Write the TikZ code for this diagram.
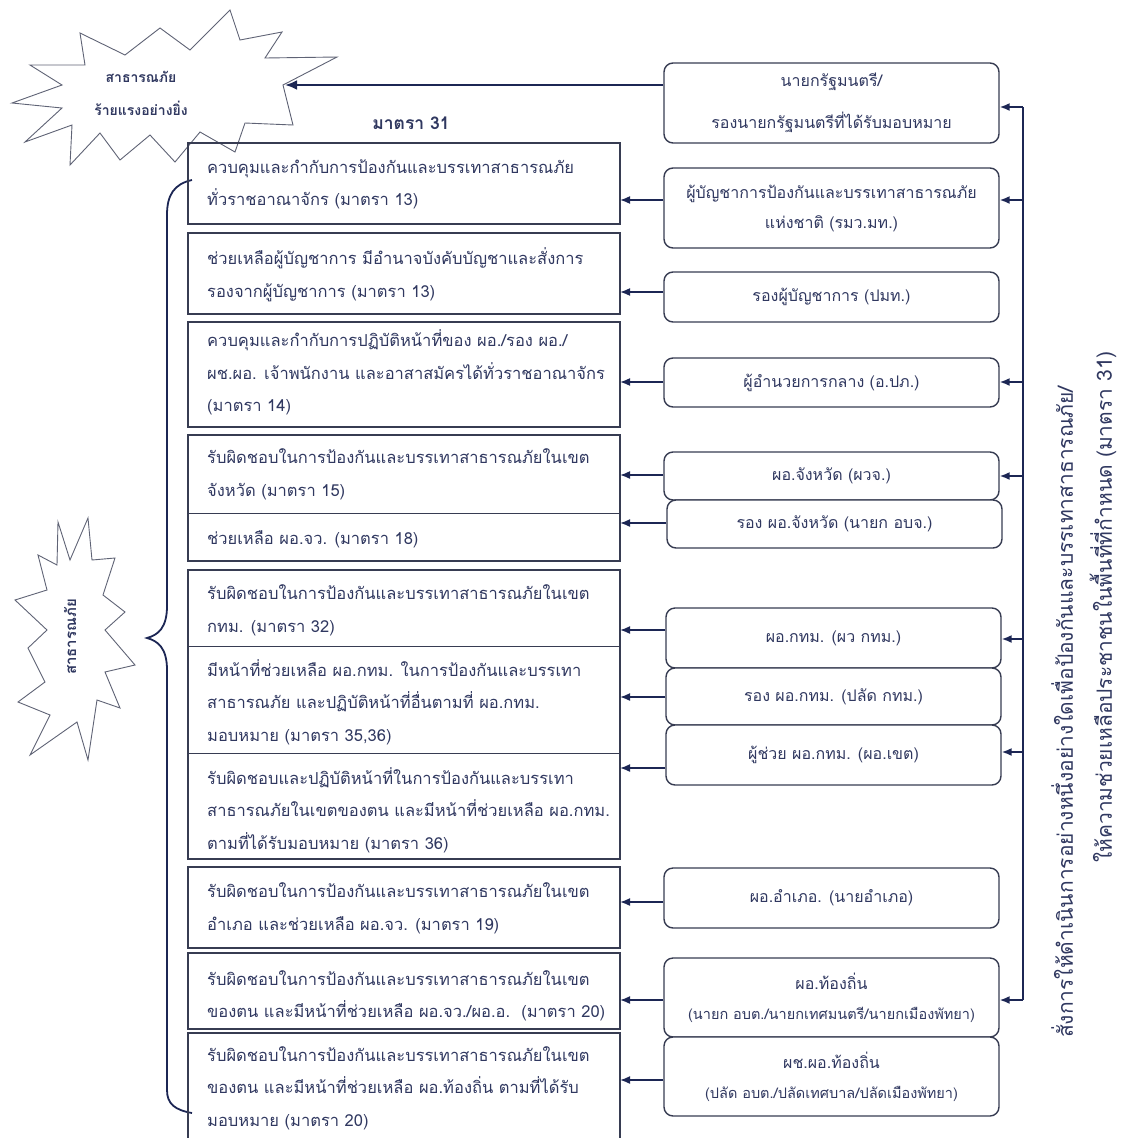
\documentclass[tikz,border=0pt]{standalone}
\usepackage{fontspec}
\setmainfont{Loma}[Script=Thai]
\usetikzlibrary{arrows.meta}
\definecolor{ink}{RGB}{48,56,96}
\definecolor{frame}{RGB}{55,60,82}
\definecolor{arrowc}{RGB}{28,38,84}
\newcommand\leftfnt{\fontsize{16.5}{32.5}\selectfont}
\newcommand\rightfnt{\fontsize{16}{30}\selectfont}
\newcommand\smallfnt{\fontsize{14.5}{30}\selectfont}
\newcommand\vertfnt{\fontsize{21}{24}\selectfont}
\begin{document}
\begin{tikzpicture}[x=1pt,y=-1pt,
  cell/.style={draw=frame,line width=1pt,minimum width=431pt,anchor=north west,inner sep=0pt},
  lframe/.style={draw=frame,line width=1.8pt},
  ltxt/.style={anchor=west,align=left,text=ink,font=\leftfnt,inner sep=0pt},
  rbox/.style={draw=frame,line width=1.4pt,rounded corners=9pt,minimum width=335pt,
    text=ink,font=\rightfnt,align=center,inner sep=0pt,fill=white},
  arr/.style={draw=arrowc,line width=1.6pt,-{Latex[length=10pt,width=8pt]}},
  bigarr/.style={draw=arrowc,line width=2.6pt,-{Latex[length=12pt,width=10pt]}},
  burst/.style={draw=frame!80,line width=0.9pt,fill=white},
]
\useasboundingbox (0,0) rectangle (1135,1138);
\clip (0,0) rectangle (1135,1138);

% ---- top starburst ----
\draw[burst] (230,10) -- (240,40) -- (282,32) -- (265,58) -- (337,57) -- (283,85)
  -- (293,125) -- (245,123) -- (235,152) -- (200,132) -- (175,162) -- (150,135)
  -- (120,160) -- (100,133) -- (70,165) -- (72,125) -- (25,142) -- (62,108)
  -- (12,103) -- (62,85) -- (30,65) -- (85,65) -- (80,33) -- (125,55)
  -- (160,28) -- (190,50) -- cycle;
\node[text=ink,font=\bfseries\fontsize{14}{33}\selectfont,align=center] (sb) at (141,93)
  {สาธารณภัย\\ร้ายแรงอย่างยิ่ง};
\coordinate (sbtip) at (285,85);

% ---- left starburst ----
\draw[burst] (58,522) -- (70,560) -- (88,518) -- (92,560) -- (115,558) -- (103,595)
  -- (125,612) -- (105,630) -- (135,665) -- (105,672) -- (120,708) -- (97,700)
  -- (88,760) -- (77,722) -- (30,755) -- (50,715) -- (18,702) -- (45,682)
  -- (28,648) -- (47,630) -- (15,600) -- (47,590) -- (38,555) -- (57,565) -- cycle;
\node[rotate=90,text=ink,font=\bfseries\fontsize{15}{17}\selectfont] (lb) at (70,637) {สาธารณภัย};

% ---- brace ----
\draw[arrowc,line width=1.8pt] (192,180) .. controls (174,184) and (167,195) .. (167,215)
  -- (167,606) .. controls (167,628) and (158,635) .. (147,638)
  .. controls (158,641) and (167,648) .. (167,670)
  -- (167,1090) .. controls (167,1104) and (175,1110) .. (192,1113);

\node[text=ink,font=\bfseries\fontsize{17.5}{20}\selectfont] (m31) at (411,123) {มาตรา 31};

% ---- left cells ----
\node[cell,minimum height=80pt]  (lc1)  at (188,143) {};
\node[cell,minimum height=80pt]  (lc2)  at (188,233) {};
\node[cell,minimum height=104pt] (lc3)  at (188,322) {};
\node[cell,minimum height=78pt]  (lc4a) at (188,435) {};
\node[cell,minimum height=47pt]  (lc4b) at (188,513) {};
\node[cell,minimum height=76pt]  (lc5a) at (188,570) {};
\node[cell,minimum height=107pt] (lc5b) at (188,646) {};
\node[cell,minimum height=105pt] (lc5c) at (188,753) {};
\node[cell,minimum height=80pt]  (lc6)  at (188,867) {};
\node[cell,minimum height=75pt]  (lc7)  at (188,953) {};
\node[cell,minimum height=112pt] (lc8)  at (188,1033) {};
\draw[lframe] (lc1.north west) rectangle (lc1.south east);
\draw[lframe] (lc2.north west) rectangle (lc2.south east);
\draw[lframe] (lc3.north west) rectangle (lc3.south east);
\draw[lframe] (lc4a.north west) rectangle (lc4b.south east);
\draw[lframe] (lc5a.north west) rectangle (lc5c.south east);
\draw[lframe] (lc6.north west) rectangle (lc6.south east);
\draw[lframe] (lc7.north west) rectangle (lc7.south east);
\draw[lframe] (lc8.north west) rectangle (lc8.south east);

\node[ltxt] (t1) at ([xshift=19pt,yshift=-1pt]lc1.west)
  {ควบคุมและกำกับการป้องกันและบรรเทาสาธารณภัย\\ทั่วราชอาณาจักร (มาตรา 13)};
\node[ltxt] (t2) at ([xshift=19pt,yshift=-1pt]lc2.west)
  {ช่วยเหลือผู้บัญชาการ มีอำนาจบังคับบัญชาและสั่งการ\\รองจากผู้บัญชาการ (มาตรา 13)};
\node[ltxt] (t3) at ([xshift=19pt,yshift=2pt]lc3.west)
  {ควบคุมและกำกับการปฏิบัติหน้าที่ของ ผอ./รอง ผอ./\\ผช.ผอ. เจ้าพนักงาน และอาสาสมัครได้ทั่วราชอาณาจักร\\(มาตรา 14)};
\node[ltxt] (t4a) at ([xshift=19pt]lc4a.west)
  {รับผิดชอบในการป้องกันและบรรเทาสาธารณภัยในเขต\\จังหวัด (มาตรา 15)};
\node[ltxt] (t4b) at ([xshift=19pt,yshift=-2pt]lc4b.west)
  {ช่วยเหลือ ผอ.จว. (มาตรา 18)};
\node[ltxt] (t5a) at ([xshift=19pt,yshift=-2pt]lc5a.west)
  {รับผิดชอบในการป้องกันและบรรเทาสาธารณภัยในเขต\\กทม. (มาตรา 32)};
\node[ltxt] (t5b) at ([xshift=19pt,yshift=-2pt]lc5b.west)
  {มีหน้าที่ช่วยเหลือ ผอ.กทม. ในการป้องกันและบรรเทา\\สาธารณภัย และปฏิบัติหน้าที่อื่นตามที่ ผอ.กทม.\\มอบหมาย (มาตรา 35,36)};
\node[ltxt] (t5c) at ([xshift=19pt,yshift=-4pt]lc5c.west)
  {รับผิดชอบและปฏิบัติหน้าที่ในการป้องกันและบรรเทา\\สาธารณภัยในเขตของตน และมีหน้าที่ช่วยเหลือ ผอ.กทม.\\ตามที่ได้รับมอบหมาย (มาตรา 36)};
\node[ltxt] (t6) at ([xshift=19pt,yshift=-1pt]lc6.west)
  {รับผิดชอบในการป้องกันและบรรเทาสาธารณภัยในเขต\\อำเภอ และช่วยเหลือ ผอ.จว. (มาตรา 19)};
\node[ltxt] (t7) at ([xshift=19pt,yshift=-5pt]lc7.west)
  {รับผิดชอบในการป้องกันและบรรเทาสาธารณภัยในเขต\\ของตน และมีหน้าที่ช่วยเหลือ ผอ.จว./ผอ.อ.~~(มาตรา 20)};
\node[ltxt] (t8) at (207,1088)
  {รับผิดชอบในการป้องกันและบรรเทาสาธารณภัยในเขต\\ของตน และมีหน้าที่ช่วยเหลือ ผอ.ท้องถิ่น ตามที่ได้รับ\\มอบหมาย (มาตรา 20)};

% ---- right boxes ----
\node[rbox,minimum height=80pt] (rb1) at (831.5,103) {นายกรัฐมนตรี/\\[12pt]รองนายกรัฐมนตรีที่ได้รับมอบหมาย};
\node[rbox,minimum height=80pt] (rb2) at (831.5,208) {ผู้บัญชาการป้องกันและบรรเทาสาธารณภัย\\แห่งชาติ (รมว.มท.)};
\node[rbox,minimum height=50pt] (rb3) at (831.5,297) {รองผู้บัญชาการ (ปมท.)};
\node[rbox,minimum height=49pt] (rb4) at (831.5,382.5) {ผู้อำนวยการกลาง (อ.ปภ.)};
\node[rbox,minimum height=48pt] (rb5) at (831.5,476) {ผอ.จังหวัด (ผวจ.)};
\node[rbox,minimum height=48pt] (rb6) at (834.5,524) {รอง ผอ.จังหวัด (นายก อบจ.)};
\node[rbox,minimum height=60pt] (rb7) at (833.5,638) {ผอ.กทม. (ผว กทม.)};
\node[rbox,minimum height=57pt] (rb8) at (833.5,696.5) {รอง ผอ.กทม. (ปลัด กทม.)};
\node[rbox,minimum height=60pt] (rb9) at (833.5,755) {ผู้ช่วย ผอ.กทม. (ผอ.เขต)};
\node[rbox,minimum height=60pt] (rb10) at (831.5,898) {ผอ.อำเภอ. (นายอำเภอ)};
\node[rbox,minimum height=79pt] (rb11) at (831.5,997.5)
  {ผอ.ท้องถิ่น\\{\smallfnt (นายก อบต./นายกเทศมนตรี/นายกเมืองพัทยา)}};
\node[rbox,minimum height=79pt] (rb12) at (831.5,1076.5)
  {ผช.ผอ.ท้องถิ่น\\{\smallfnt (ปลัด อบต./ปลัดเทศบาล/ปลัดเมืองพัทยา)}};

% ---- connectors to the left column ----
\draw[bigarr] (rb1.west |- 0,85) -- (sbtip);
\draw[arr] (rb2.west |- 0,200) -- (lc1.east |- 0,200);
\draw[arr] (rb3.west |- 0,292) -- (lc2.east |- 0,292);
\draw[arr] (rb4.west |- 0,382) -- (lc3.east |- 0,382);
\draw[arr] (rb5.west |- 0,475) -- (lc4a.east |- 0,475);
\draw[arr] (rb6.west |- 0,523) -- (lc4b.east |- 0,523);
\draw[arr] (rb7.west |- 0,630) -- (lc5a.east |- 0,630);
\draw[arr] (rb8.west |- 0,697) -- (lc5b.east |- 0,697);
\draw[arr] (rb9.west |- 0,768) -- (lc5c.east |- 0,768);
\draw[arr] (rb10.west |- 0,902) -- (lc6.east |- 0,902);
\draw[arr] (rb11.west |- 0,1000) -- (lc7.east |- 0,1000);
\draw[arr] (rb12.west |- 0,1080) -- (lc8.east |- 0,1080);

% ---- command bus on the right ----
\coordinate (bt) at (1023,107);
\coordinate (bb) at (1023,1000);
\draw[arrowc,line width=1.6pt] (bt) -- (bb);
\draw[arr] (bt) -- (rb1.east |- bt);
\draw[arr] (bb) -- (rb11.east |- bb);
\draw[arr] (bt |- 0,200) -- (rb2.east |- 0,200);
\draw[arr] (bt |- 0,382) -- (rb4.east |- 0,382);
\draw[arr] (bt |- 0,476) -- (rb5.east |- 0,476);
\draw[arr] (bt |- 0,639) -- (rb7.east |- 0,639);
\draw[arr] (bt |- 0,752) -- (rb9.east |- 0,752);

\node[rotate=90,text=ink,font=\vertfnt] (v1) at (1062,712)
  {สั่งการให้ดำเนินการอย่างหนึ่งอย่างใดเพื่อป้องกันและบรรเทาสาธารณภัย/};
\node[rotate=90,text=ink,font=\vertfnt] (v2) at (1103,607)
  {ให้ความช่วยเหลือประชาชนในพื้นที่ที่กำหนด (มาตรา 31)};
\end{tikzpicture}
\end{document}
